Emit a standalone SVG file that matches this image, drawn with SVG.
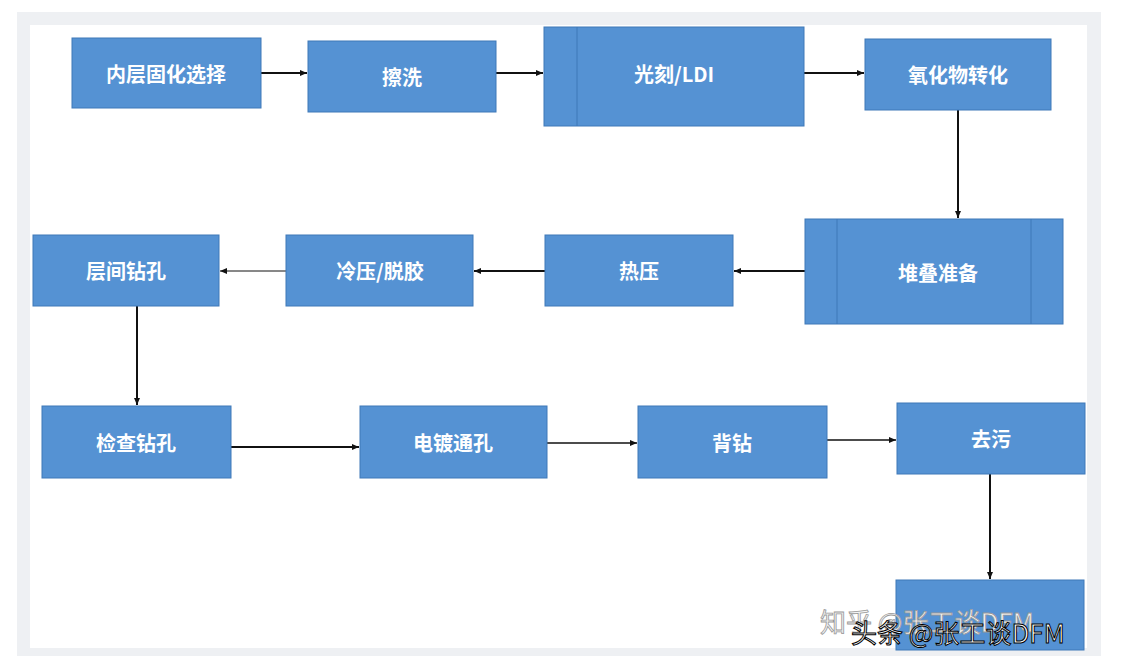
<svg xmlns="http://www.w3.org/2000/svg" width="1122" height="668" viewBox="0 0 1122 668">
<defs>
<marker id="ah" markerWidth="8" markerHeight="8" refX="7" refY="4" orient="auto" markerUnits="userSpaceOnUse"><path d="M0,1 L7,4 L0,7 z" fill="#111"/></marker>
<style>
.b{fill:#5592d3;stroke:#3f78b8;stroke-width:1}
.l{stroke:#3f78b8;stroke-width:1}
.t{fill:#fff;font-family:"Noto Sans CJK SC","Liberation Sans",sans-serif;font-size:20px;font-weight:bold;text-anchor:middle;dominant-baseline:central}
.c{stroke:#111;stroke-width:2;fill:none;marker-end:url(#ah)}
.w{font-family:"Noto Sans CJK SC","Liberation Sans",sans-serif;font-size:26px;fill:#fff}
</style>
</defs>
<rect width="1122" height="668" fill="#fff"/>
<rect x="17" y="12" width="1084" height="644" fill="#eef0f3"/>
<rect x="30" y="25" width="1057" height="623" fill="#fff"/>
<g id="connectors">
<line class="c" x1="261" y1="73" x2="307" y2="73"/>
<line class="c" x1="496" y1="73" x2="543" y2="73"/>
<line class="c" x1="804" y1="73" x2="864" y2="73"/>
<line class="c" x1="958" y1="110" x2="958" y2="218"/>
<line class="c" x1="805" y1="271" x2="734" y2="271"/>
<line class="c" x1="545" y1="271" x2="474" y2="271"/>
<line class="c" x1="286" y1="271" x2="220" y2="271" style="stroke-width:1"/>
<line class="c" x1="137" y1="306" x2="137" y2="405"/>
<line class="c" x1="231" y1="447" x2="359" y2="447"/>
<line class="c" x1="547" y1="443" x2="637" y2="443" style="stroke-width:1.5"/>
<line class="c" x1="827" y1="440" x2="896" y2="440" style="stroke-width:1.5"/>
<line class="c" x1="990" y1="474" x2="990" y2="579"/>
</g>
<g id="n1"><rect class="b" x="72" y="38" width="189" height="70"/><text class="t" x="166" y="73">内层固化选择</text></g>
<g id="n2"><rect class="b" x="308" y="41" width="188" height="71"/><text class="t" x="402" y="76">擦洗</text></g>
<g id="n3"><rect class="b" x="544" y="27" width="260" height="99"/><line class="l" x1="577" y1="27" x2="577" y2="126"/><text class="t" x="674" y="73">光刻/LDI</text></g>
<g id="n4"><rect class="b" x="865" y="39" width="186" height="71"/><text class="t" x="958" y="74">氧化物转化</text></g>
<g id="n5"><rect class="b" x="805" y="219" width="258" height="105"/><line class="l" x1="837" y1="219" x2="837" y2="324"/><line class="l" x1="1031" y1="219" x2="1031" y2="324"/><text class="t" x="938" y="272">堆叠准备</text></g>
<g id="n6"><rect class="b" x="545" y="235" width="188" height="71"/><text class="t" x="639" y="270">热压</text></g>
<g id="n7"><rect class="b" x="286" y="235" width="187" height="71"/><text class="t" x="380" y="270">冷压/脱胶</text></g>
<g id="n8"><rect class="b" x="33" y="235" width="186" height="71"/><text class="t" x="126" y="270">层间钻孔</text></g>
<g id="n9"><rect class="b" x="42" y="406" width="189" height="72"/><text class="t" x="136" y="442">检查钻孔</text></g>
<g id="n10"><rect class="b" x="360" y="406" width="187" height="72"/><text class="t" x="453" y="442">电镀通孔</text></g>
<g id="n11"><rect class="b" x="638" y="406" width="189" height="72"/><text class="t" x="732" y="442">背钻</text></g>
<g id="n12"><rect class="b" x="897" y="403" width="188" height="71"/><text class="t" x="991" y="438">去污</text></g>
<g id="n13"><rect class="b" x="896" y="580" width="188" height="70"/></g>
<text class="w" x="820" y="632" style="fill:#f4f4f4;stroke:#999;stroke-width:0.8">知乎 @张工谈DFM</text>
<text class="w" x="851" y="643" style="stroke:#000;stroke-width:1">头条 @张工谈DFM</text>
</svg>
